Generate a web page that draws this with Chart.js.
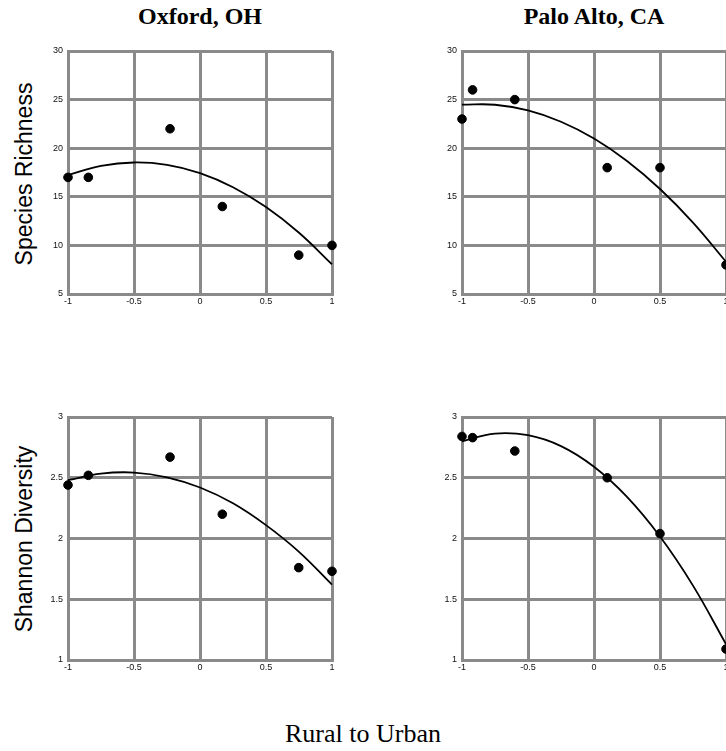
<!DOCTYPE html>
<html>
<head>
<meta charset="utf-8">
<script src="https://cdn.jsdelivr.net/npm/chart.js@4.4.1/dist/chart.umd.min.js"></script>
<style>
    html, body { margin: 0; padding: 0; background: #fff; overflow: hidden; }
    body { width: 726px; height: 751px; position: relative; }
    .panel { position: absolute; width: 340px; height: 280px; }
    .title { position: absolute; transform: translateX(-50%); font-family: "Liberation Serif", "Times New Roman", serif; font-weight: bold; font-size: 24px; white-space: nowrap; color: #000; }
    .ylab { position: absolute; transform: translate(-50%, -50%) rotate(-90deg); font-family: "Liberation Sans", Arial, sans-serif; font-size: 23px; white-space: nowrap; color: #000; }
    .xlab { position: absolute; transform: translateX(-50%); font-family: "Liberation Serif", "Times New Roman", serif; font-size: 26px; white-space: nowrap; color: #000; }
</style>
</head>
<body>
<div class="title" style="left:200px; top:3px;">Oxford, OH</div>
<div class="title" style="left:594px; top:3px;">Palo Alto, CA</div>
<div class="ylab" style="left:24px; top:174px;">Species Richness</div>
<div class="ylab" style="left:24px; top:539px;">Shannon Diversity</div>
<div class="xlab" style="left:363px; top:719px;">Rural to Urban</div>

<div class="panel" style="left:0px; top:40px;"><canvas id="oxford-richness"></canvas></div>
<div class="panel" style="left:394px; top:40px;"><canvas id="palo-richness"></canvas></div>
<div class="panel" style="left:0px; top:406px;"><canvas id="oxford-shannon"></canvas></div>
<div class="panel" style="left:394px; top:406px;"><canvas id="palo-shannon"></canvas></div>

<script>
// gradient position, -1 = rural, 1 = urban
const xTicks = [-1, -0.5, 0, 0.5, 1];
const richnessTicks = [5, 10, 15, 20, 25, 30];
const shannonTicks = [1, 1.5, 2, 2.5, 3];

// site positions along the gradient
const oxfordX = [-1, -0.846, -0.227, 0.169, 0.748, 1];
const paloX = [-1, -0.92, -0.6, 0.1, 0.5, 1];

const oxfordRichness = [17, 17, 22, 14, 9, 10];
const paloRichness = [23, 26, 25, 18, 18, 8];
const oxfordShannon = [2.44, 2.52, 2.67, 2.2, 1.76, 1.73];
const paloShannon = [2.84, 2.83, 2.72, 2.5, 2.04, 1.09];

// fitted trend curves, sampled every 0.25
const fitX = [-1, -0.75, -0.5, -0.25, 0, 0.25, 0.5, 0.75, 1];
const oxfordRichnessFit = [17.24, 18.18, 18.53, 18.28, 17.43, 15.98, 13.94, 11.3, 8.06];
const paloRichnessFit = [24.48, 24.47, 23.88, 22.72, 20.99, 18.68, 15.8, 12.35, 8.32];
const oxfordShannonFit = [2.48, 2.534, 2.543, 2.504, 2.42, 2.29, 2.11, 1.89, 1.62];
const paloShannonFit = [2.8, 2.864, 2.85, 2.76, 2.59, 2.342, 2.016, 1.612, 1.13];

const gridGray = "#8a8a8a";
const tickFont = { family: "'Liberation Sans', Arial, sans-serif", size: 9 };

function pairs(xs, ys) {
    return xs.map((x, i) => ({ x: x, y: ys[i] }));
}

function makePanel(id, xs, ys, fit, yTicks) {
    new Chart(document.getElementById(id), {
        type: "scatter",
        data: {
            datasets: [
                {
                    data: pairs(xs, ys),
                    backgroundColor: "#000",
                    borderColor: "#000",
                    pointRadius: 4.3,
                    pointHoverRadius: 4.3,
                    clip: false
                },
                {
                    data: pairs(fitX, fit),
                    showLine: true,
                    borderColor: "#000",
                    borderWidth: 1.8,
                    pointRadius: 0,
                    tension: 0.4,
                    clip: false
                }
            ]
        },
        options: {
            responsive: false,
            animation: false,
            devicePixelRatio: 1,
            layout: { padding: { top: 11, right: 8, left: 0, bottom: 0 } },
            plugins: { legend: { display: false }, tooltip: { enabled: false } },
            scales: {
                x: {
                    type: "linear",
                    min: xTicks[0],
                    max: xTicks[xTicks.length - 1],
                    afterBuildTicks: (s) => { s.ticks = xTicks.map((v) => ({ value: v })); },
                    afterFit: (s) => { s.height = 26; },
                    grid: { color: gridGray, lineWidth: 3, drawTicks: false },
                    border: { display: true, color: gridGray, width: 3 },
                    ticks: { font: tickFont, color: "#111", padding: 2, maxRotation: 0, callback: (v) => String(v) }
                },
                y: {
                    type: "linear",
                    min: yTicks[0],
                    max: yTicks[yTicks.length - 1],
                    afterBuildTicks: (s) => { s.ticks = yTicks.map((v) => ({ value: v })); },
                    afterFit: (s) => { s.width = 68; },
                    grid: { color: gridGray, lineWidth: 3, drawTicks: false },
                    border: { display: true, color: gridGray, width: 3 },
                    ticks: { font: tickFont, color: "#111", padding: 5, callback: (v) => String(v) }
                }
            }
        }
    });
}

document.querySelectorAll("canvas").forEach((c) => { c.width = 340; c.height = 280; });

makePanel("oxford-richness", oxfordX, oxfordRichness, oxfordRichnessFit, richnessTicks);
makePanel("palo-richness", paloX, paloRichness, paloRichnessFit, richnessTicks);
makePanel("oxford-shannon", oxfordX, oxfordShannon, oxfordShannonFit, shannonTicks);
makePanel("palo-shannon", paloX, paloShannon, paloShannonFit, shannonTicks);
</script>
</body>
</html>
